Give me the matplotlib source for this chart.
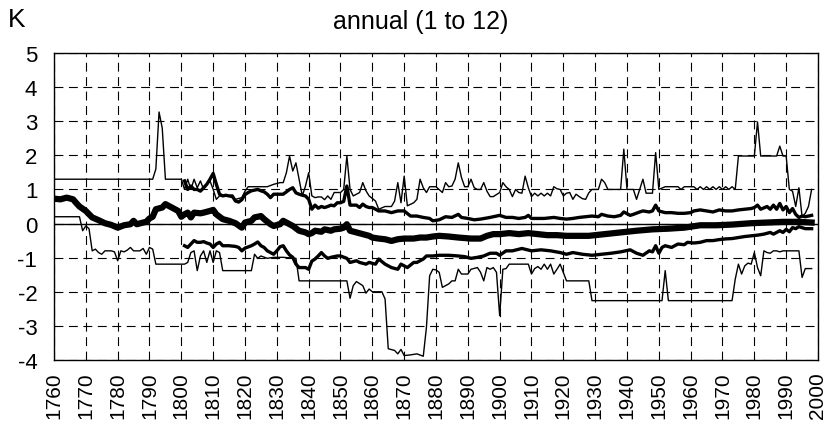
import matplotlib
matplotlib.use("Agg")
import matplotlib.pyplot as plt

plt.rcParams["font.family"] = ["Liberation Sans", "DejaVu Sans"]

# upper envelope (thin)
max_years = [1760, 1791, 1792, 1793, 1794, 1795, 1800, 1801, 1802, 1803, 1804, 1805, 1806, 1807, 1808, 1809,
             1810, 1811, 1812, 1813, 1815, 1817, 1819, 1820, 1821, 1824, 1827, 1829, 1831, 1832, 1833, 1834,
             1835, 1836, 1837, 1838, 1839, 1840, 1841, 1842, 1843, 1844, 1845, 1846, 1847, 1848, 1850, 1851,
             1852, 1853, 1854, 1856, 1857, 1858, 1859, 1861, 1862, 1864, 1866, 1867, 1868, 1869, 1870, 1871,
             1873, 1874, 1875, 1876, 1877, 1878, 1880, 1882, 1883, 1884, 1885, 1886, 1887, 1888, 1889, 1890,
             1891, 1892, 1893, 1894, 1895, 1896, 1897, 1898, 1899, 1900, 1901, 1902, 1903, 1904, 1905, 1906,
             1907, 1908, 1909, 1910, 1911, 1912, 1913, 1914, 1915, 1916, 1917, 1918, 1919, 1920, 1921, 1922,
             1923, 1924, 1925, 1926, 1927, 1928, 1929, 1931, 1932, 1933, 1934, 1938, 1939, 1940, 1942, 1943,
             1944, 1945, 1946, 1948, 1949, 1950, 1952, 1956, 1957, 1958, 1961, 1962, 1963, 1964, 1965, 1966,
             1967, 1968, 1969, 1970, 1971, 1972, 1973, 1974, 1975, 1980, 1981, 1982, 1987, 1988, 1989, 1990,
             1991, 1992, 1993, 1994, 1995, 1996, 1997, 1998]
max_vals = [1.3, 1.3, 1.6, 3.27, 2.8, 1.3, 1.3, 1.0, 1.3, 1.0, 1.3, 1.05, 1.25, 1.0, 1.15, 1.25,
            1.0, 0.71, 0.81, 0.8, 0.8, 0.71, 0.76, 0.95, 1.08, 1.08, 1.08, 1.15, 1.2, 1.2, 1.49, 1.98,
            1.54, 1.78, 1.3, 0.81, 1.1, 1.49, 0.81, 0.76, 0.78, 0.78, 0.7, 0.81, 0.71, 0.91, 0.91, 1.0,
            1.98, 1.0, 0.81, 0.91, 1.2, 0.96, 0.81, 0.66, 0.42, 0.5, 0.5, 0.66, 1.2, 0.61, 1.39, 0.52,
            0.61, 0.71, 1.3, 1.05, 0.91, 1.08, 1.08, 0.91, 1.2, 1.08, 1.1, 1.3, 1.78, 1.35, 1.08, 1.08,
            1.3, 1.05, 1.0, 1.0, 1.2, 0.95, 0.79, 0.79, 0.85, 0.91, 1.2, 1.08, 1.0, 0.79, 1.0, 0.91,
            0.89, 1.39, 1.05, 0.79, 0.89, 0.81, 0.89, 0.81, 0.89, 0.81, 1.08, 1.02, 1.0, 0.81, 0.89, 0.91,
            0.71, 0.86, 0.79, 0.73, 0.71, 0.9, 1.0, 1.0, 1.3, 1.2, 1.0, 1.0, 2.18, 1.0, 1.0, 0.71,
            1.0, 1.3, 0.89, 0.89, 2.08, 1.0, 1.08, 1.08, 1.0, 1.08, 1.08, 1.0, 1.08, 1.0, 1.08, 1.0,
            1.08, 1.0, 1.08, 1.0, 1.08, 1.0, 1.08, 1.0, 1.98, 1.98, 2.98, 1.98, 1.98, 2.27, 1.98, 1.98,
            1.0, 0.95, 0.5, 1.05, 0.2, 0.3, 0.5, 1.0]

# upper band (thick)
upper_years = [1801, 1802, 1803, 1804, 1805, 1806, 1807, 1808, 1809, 1810, 1811, 1812, 1813, 1814, 1815,
               1816, 1817, 1818, 1819, 1820, 1821, 1822, 1823, 1824, 1825, 1826, 1827, 1828, 1829, 1830,
               1831, 1832, 1833, 1834, 1835, 1836, 1837, 1838, 1839, 1840, 1841, 1842, 1843, 1844, 1845,
               1846, 1847, 1848, 1849, 1850, 1851, 1852, 1853, 1854, 1855, 1856, 1857, 1858, 1859, 1860,
               1861, 1862, 1864, 1866, 1868, 1870, 1872, 1874, 1876, 1878, 1879, 1881, 1883, 1885, 1887,
               1888, 1890, 1892, 1894, 1897, 1899, 1900, 1902, 1904, 1906, 1908, 1909, 1910, 1914, 1917,
               1919, 1921, 1923, 1925, 1927, 1929, 1931, 1932, 1934, 1936, 1938, 1939, 1941, 1942, 1944,
               1945, 1947, 1948, 1949, 1950, 1952, 1954, 1956, 1958, 1960, 1961, 1963, 1965, 1967, 1969,
               1971, 1973, 1975, 1977, 1979, 1980, 1981, 1982, 1984, 1985, 1986, 1987, 1988, 1989, 1990,
               1991, 1992, 1993, 1994, 1995, 1996, 1997, 1998]
upper_vals = [1.25, 1.0, 1.1, 1.0, 1.0, 0.95, 1.05, 1.15, 1.3, 1.47, 1.15, 0.86, 0.81, 0.83, 0.81,
              0.81, 0.66, 0.63, 0.7, 0.85, 0.91, 0.96, 0.98, 1.0, 0.96, 0.93, 0.86, 0.76, 0.86, 0.86,
              0.86, 0.86, 0.93, 1.0, 1.05, 0.9, 0.86, 0.83, 0.81, 0.71, 0.42, 0.54, 0.45, 0.5, 0.47,
              0.5, 0.54, 0.52, 0.61, 0.61, 0.65, 1.1, 0.54, 0.54, 0.54, 0.47, 0.57, 0.5, 0.47, 0.47,
              0.42, 0.37, 0.37, 0.32, 0.37, 0.37, 0.22, 0.22, 0.18, 0.15, 0.08, 0.11, 0.2, 0.18, 0.27,
              0.18, 0.15, 0.11, 0.13, 0.18, 0.22, 0.24, 0.18, 0.18, 0.15, 0.18, 0.24, 0.15, 0.15, 0.18,
              0.15, 0.13, 0.15, 0.18, 0.2, 0.22, 0.2, 0.27, 0.22, 0.2, 0.24, 0.34, 0.24, 0.27, 0.34,
              0.37, 0.34, 0.37, 0.54, 0.37, 0.32, 0.32, 0.3, 0.3, 0.32, 0.37, 0.4, 0.37, 0.34, 0.4,
              0.37, 0.37, 0.4, 0.42, 0.44, 0.47, 0.54, 0.42, 0.5, 0.42, 0.54, 0.42, 0.59, 0.4, 0.5,
              0.32, 0.44, 0.27, 0.18, 0.22, 0.2, 0.22, 0.24]

# mean (thickest)
mean_years = [1760, 1762, 1764, 1766, 1767, 1768, 1770, 1772, 1774, 1776, 1778, 1780, 1782, 1784, 1785,
              1786, 1788, 1789, 1790, 1791, 1792, 1794, 1795, 1797, 1799, 1800, 1801, 1802, 1803, 1804,
              1806, 1807, 1809, 1810, 1811, 1813, 1815, 1817, 1819, 1820, 1822, 1823, 1825, 1826, 1828,
              1829, 1831, 1832, 1834, 1835, 1837, 1839, 1840, 1841, 1842, 1844, 1845, 1847, 1848, 1850,
              1851, 1852, 1853, 1855, 1857, 1859, 1860, 1862, 1864, 1866, 1868, 1870, 1873, 1875, 1877,
              1879, 1881, 1884, 1887, 1891, 1894, 1896, 1898, 1900, 1903, 1906, 1909, 1912, 1915, 1918,
              1921, 1924, 1928, 1933, 1938, 1943, 1948, 1953, 1958, 1963, 1968, 1973, 1979, 1984, 1989,
              1994, 1998]
mean_vals = [0.73, 0.71, 0.76, 0.71, 0.6, 0.5, 0.37, 0.18, 0.1, 0.01, -0.04, -0.12, -0.05, -0.02, 0.08,
             -0.02, 0.03, 0.05, 0.15, 0.2, 0.42, 0.47, 0.57, 0.47, 0.37, 0.2, 0.27, 0.32, 0.18, 0.32,
             0.3, 0.32, 0.37, 0.4, 0.27, 0.13, 0.08, 0.01, -0.12, 0.03, 0.08, 0.18, 0.22, 0.13, -0.02,
             -0.07, -0.02, 0.08, -0.02, -0.07, -0.21, -0.26, -0.31, -0.28, -0.21, -0.24, -0.17, -0.21, -0.17, -0.15,
             -0.12, -0.02, -0.21, -0.26, -0.31, -0.36, -0.41, -0.44, -0.46, -0.51, -0.46, -0.44, -0.44, -0.41, -0.41,
             -0.38, -0.36, -0.38, -0.41, -0.44, -0.44, -0.36, -0.31, -0.31, -0.28, -0.31, -0.28, -0.31, -0.34, -0.34,
             -0.36, -0.36, -0.36, -0.31, -0.26, -0.21, -0.17, -0.15, -0.12, -0.05, -0.05, -0.03, 0.01, 0.03, 0.05,
             0.05, 0.03]

# lower band (thick)
lower_years = [1801, 1802, 1803, 1804, 1805, 1806, 1807, 1808, 1809, 1810, 1811, 1812, 1813, 1815, 1817,
               1818, 1819, 1820, 1822, 1823, 1824, 1825, 1826, 1827, 1829, 1830, 1831, 1832, 1833, 1834,
               1835, 1836, 1837, 1839, 1840, 1841, 1842, 1843, 1844, 1845, 1846, 1847, 1849, 1850, 1852,
               1853, 1855, 1856, 1858, 1859, 1861, 1862, 1864, 1866, 1868, 1869, 1871, 1873, 1874, 1876,
               1877, 1879, 1881, 1884, 1887, 1889, 1891, 1893, 1895, 1897, 1899, 1900, 1902, 1904, 1907,
               1910, 1913, 1916, 1919, 1921, 1923, 1926, 1929, 1932, 1935, 1938, 1941, 1943, 1945, 1947,
               1948, 1949, 1950, 1951, 1952, 1954, 1956, 1958, 1959, 1961, 1963, 1965, 1967, 1969, 1971,
               1973, 1975, 1977, 1979, 1981, 1983, 1985, 1986, 1988, 1989, 1990, 1991, 1992, 1993, 1994,
               1996, 1998]
lower_vals = [-0.65, -0.7, -0.6, -0.5, -0.55, -0.55, -0.53, -0.57, -0.6, -0.7, -0.6, -0.55, -0.65, -0.65, -0.67,
              -0.7, -0.8, -0.72, -0.65, -0.6, -0.54, -0.65, -0.7, -0.8, -0.9, -0.8, -0.68, -0.65, -0.8, -0.92,
              -0.99, -1.19, -1.29, -1.29, -1.34, -1.1, -1.04, -0.95, -0.85, -0.95, -1.02, -0.99, -0.95, -0.95, -1.02,
              -1.14, -1.09, -1.14, -1.19, -1.14, -1.19, -1.04, -1.19, -1.29, -1.34, -1.19, -1.29, -1.14, -1.14, -1.04,
              -0.95, -0.95, -0.93, -0.93, -0.95, -0.97, -1.02, -0.99, -0.95, -0.87, -0.87, -0.93, -0.8, -0.8, -0.73,
              -0.8, -0.77, -0.8, -0.85, -0.9, -0.85, -0.9, -0.93, -0.9, -0.87, -0.83, -0.77, -0.87, -0.93, -0.8,
              -0.83, -0.65, -0.87, -0.7, -0.65, -0.7, -0.6, -0.62, -0.55, -0.57, -0.55, -0.5, -0.5, -0.47, -0.45,
              -0.44, -0.41, -0.38, -0.36, -0.34, -0.31, -0.26, -0.31, -0.21, -0.26, -0.17, -0.24, -0.12, -0.15, -0.09,
              -0.15, -0.15]

# lower envelope (thin)
min_years = [1760, 1768, 1769, 1770, 1771, 1772, 1773, 1774, 1775, 1776, 1777, 1778, 1779, 1780, 1781,
             1782, 1783, 1784, 1785, 1786, 1787, 1788, 1789, 1790, 1791, 1792, 1801, 1802, 1803, 1804,
             1805, 1806, 1807, 1808, 1809, 1810, 1811, 1812, 1813, 1822, 1823, 1824, 1825, 1827, 1829,
             1832, 1836, 1837, 1852, 1853, 1854, 1855, 1857, 1858, 1859, 1860, 1863, 1864, 1865, 1867,
             1868, 1869, 1870, 1872, 1874, 1876, 1877, 1878, 1879, 1880, 1881, 1882, 1884, 1885, 1886,
             1887, 1888, 1890, 1891, 1893, 1894, 1895, 1896, 1897, 1898, 1899, 1900, 1901, 1902, 1903,
             1909, 1910, 1911, 1912, 1913, 1914, 1915, 1916, 1917, 1918, 1919, 1921, 1928, 1929, 1951,
             1952, 1953, 1973, 1974, 1975, 1976, 1977, 1978, 1979, 1980, 1981, 1982, 1983, 1984, 1985,
             1986, 1987, 1988, 1989, 1991, 1994, 1995, 1996, 1998]
min_vals = [0.2, 0.2, -0.21, -0.07, -0.15, -0.8, -0.75, -0.85, -0.9, -0.8, -0.8, -0.8, -0.83, -1.09, -0.8,
            -0.83, -0.78, -0.7, -0.8, -0.8, -0.8, -0.73, -0.9, -0.7, -0.75, -1.19, -1.19, -1.14, -0.85, -0.8,
            -1.38, -0.95, -0.8, -1.14, -0.8, -1.14, -0.8, -0.85, -1.38, -1.38, -0.9, -1.02, -0.95, -1.02, -0.99,
            -0.99, -1.02, -1.68, -1.68, -2.19, -1.82, -1.7, -1.82, -2.04, -1.92, -2.0, -2.0, -2.21, -3.67, -3.72,
            -3.82, -3.69, -3.87, -3.85, -3.82, -3.89, -3.04, -1.53, -1.34, -1.36, -1.43, -1.87, -1.77, -1.68, -1.68,
            -1.34, -1.48, -1.48, -1.34, -1.29, -1.43, -1.68, -1.29, -1.34, -1.29, -1.43, -2.7, -1.34, -1.32, -1.19,
            -1.19, -1.48, -1.32, -1.26, -1.34, -1.19, -1.34, -1.19, -1.48, -1.34, -1.19, -1.68, -1.68, -2.26, -2.26,
            -1.38, -2.26, -2.26, -1.63, -1.19, -1.48, -1.24, -1.16, -1.19, -0.85, -1.29, -1.53, -0.8, -0.85, -0.87,
            -0.8, -0.8, -0.83, -0.8, -0.8, -0.8, -1.58, -1.32, -1.32]

x_ticks = list(range(1760, 2001, 10))
y_ticks = list(range(-4, 6))

fig = plt.figure(figsize=(8.29, 4.39), dpi=100)
ax = fig.add_axes([54 / 829, 1 - 361 / 439, (818 - 54) / 829, (361 - 54) / 439])

ax.plot(max_years, max_vals, color="black", lw=1.0)
ax.plot(min_years, min_vals, color="black", lw=1.0)
ax.plot(upper_years, upper_vals, color="black", lw=2.4)
ax.plot(lower_years, lower_vals, color="black", lw=2.4)
ax.plot(mean_years, mean_vals, color="black", lw=4.5)
ax.axhline(0, color="black", lw=1.0)

ax.set_xlim(1760, 2000)
ax.set_ylim(-4, 5)
ax.set_xticks(x_ticks)
ax.set_yticks(y_ticks)
ax.set_xticklabels([str(y) for y in x_ticks], rotation=90, fontsize=15)
ax.set_yticklabels([str(v) for v in y_ticks], fontsize=16)
ax.tick_params(axis="x", length=0, pad=8)
ax.tick_params(axis="y", length=0, pad=12)
ax.grid(True, color="black", lw=0.8, linestyle=(0, (8, 5)))
for s in ax.spines.values():
    s.set_linewidth(1.0)

fig.text(421 / 829, 1 - 22 / 439, "annual (1 to 12)", ha="center", va="center", fontsize=18)
fig.text(8 / 829, 1 - 20 / 439, "K", ha="left", va="center", fontsize=19)

fig.savefig("out.png", dpi=100)
